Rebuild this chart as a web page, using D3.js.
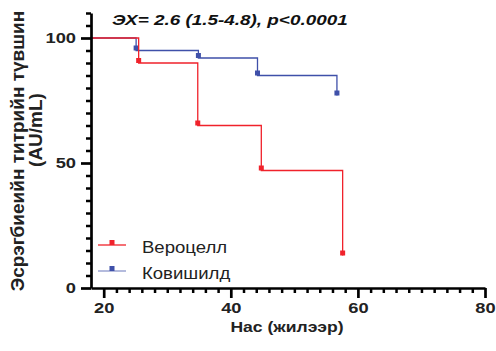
<!DOCTYPE html>
<html>
<head>
<meta charset="utf-8">
<script src="https://cdn.jsdelivr.net/npm/d3@7"></script>
<style>
  body { margin: 0; background: #fff; }
  svg text { font-family: Arial, "Liberation Sans", sans-serif; }
</style>
</head>
<body>
<svg id="chart" width="496" height="351"></svg>
<script>
// data
const seriesNames = ["Вероцелл", "Ковишилд"];
const seriesColors = ["#f0222b", "#3f50a9"];
const veroTimes = [18, 25.5, 34.8, 44.8, 57.6];
const veroLevels = [100, 90, 65, 47, 13];
const coviTimes = [18, 25.1, 34.9, 44.2, 56.7];
const coviLevels = [100, 95, 92, 85, 77];
const xMajorTicks = [20, 40, 60, 80];
const yMajorTicks = [0, 50, 100];
const titleText = "ЭХ= 2.6 (1.5-4.8), p<0.0001";
const xTitle = "Нас (жилээр)";
const yTitle = ["Эсрэгбиеийн титрийн түвшин", "(AU/mL)"];

// layout
const margin = { left: 91, right: 11, top: 13, bottom: 63 };
const W = 496, H = 351;
const width = W - margin.left - margin.right;
const height = H - margin.top - margin.bottom;
const markerSize = 5;
const stretch = 1.22; // text in the reference is a bit wider than plain Arial

const svg = d3.select("#chart");
const g = svg.append("g").attr("transform", `translate(${margin.left}, ${margin.top})`);

const x = d3.scaleLinear().domain([18, 80]).range([0, width]);
const y = d3.scaleLinear().domain([0, 110]).range([height, 0]);

const series = [
  { name: seriesNames[0], color: seriesColors[0], t: veroTimes, v: veroLevels },
  { name: seriesNames[1], color: seriesColors[1], t: coviTimes, v: coviLevels }
];

// step lines (blue first so red sits on top)
[series[1], series[0]].forEach((s) => {
  const pts = s.t.map((t, i) => ({ t: t, v: s.v[i] }));
  const line = d3.line()
    .x((d) => x(d.t))
    .y((d) => y(d.v))
    .curve(d3.curveStepAfter);
  g.append("path")
    .datum(pts)
    .attr("fill", "none")
    .attr("stroke", s.color)
    .attr("stroke-width", 1.3)
    .attr("d", line);

  g.selectAll(null)
    .data(pts.slice(1))
    .enter()
    .append("rect")
    .attr("x", (d) => x(d.t) - markerSize / 2)
    .attr("y", (d) => y(d.v) - markerSize)
    .attr("width", markerSize)
    .attr("height", markerSize)
    .attr("fill", s.color);
});

// x axis
const xMinor = d3.range(20, 81, 2).filter((d) => !xMajorTicks.includes(d));
g.append("g")
  .attr("transform", `translate(0, ${height})`)
  .call(d3.axisBottom(x).tickValues(xMinor).tickSize(5).tickFormat("").tickSizeOuter(0))
  .call((a) => a.select(".domain").remove())
  .selectAll("line").attr("stroke", "#000").attr("stroke-width", 2.5);

const xAxis = g.append("g")
  .attr("transform", `translate(0, ${height})`)
  .call(d3.axisBottom(x).tickValues(xMajorTicks).tickSize(10).tickSizeOuter(0).tickPadding(4));
xAxis.select(".domain").attr("stroke", "#000").attr("stroke-width", 2.7);
xAxis.selectAll(".tick line").attr("stroke", "#000").attr("stroke-width", 2.7);
xAxis.selectAll(".tick text")
  .attr("fill", "#222")
  .attr("transform", `scale(${stretch},1)`)
  .style("font-size", "15px")
  .style("font-weight", "bold");

// y axis
const yMinor = d3.range(0, 111, 5).filter((d) => !yMajorTicks.includes(d));
g.append("g")
  .call(d3.axisLeft(y).tickValues(yMinor).tickSize(5).tickFormat("").tickSizeOuter(0))
  .call((a) => a.select(".domain").remove())
  .selectAll("line").attr("stroke", "#000").attr("stroke-width", 2.5);

const yAxis = g.append("g")
  .call(d3.axisLeft(y).tickValues(yMajorTicks).tickSize(10).tickSizeOuter(0).tickPadding(5));
yAxis.select(".domain").attr("stroke", "#000").attr("stroke-width", 2.7);
yAxis.selectAll(".tick line").attr("stroke", "#000").attr("stroke-width", 2.7);
yAxis.selectAll(".tick text")
  .attr("fill", "#222")
  .attr("x", -15 / stretch)
  .attr("transform", `scale(${stretch},1)`)
  .style("font-size", "15px")
  .style("font-weight", "bold");

// title
svg.append("text")
  .attr("transform", `translate(112, 25) scale(1.26,1)`)
  .style("font-size", "15px")
  .style("font-weight", "bold")
  .style("font-style", "italic")
  .attr("fill", "#111")
  .text(titleText);

// x-axis title
svg.append("text")
  .attr("transform", `translate(287, 332) scale(1.17,1)`)
  .attr("text-anchor", "middle")
  .style("font-size", "15px")
  .style("font-weight", "bold")
  .attr("fill", "#222")
  .text(xTitle);

// y-axis title
const yTitlePos = [[24, 151], [42, 130]];
yTitle.forEach((t, i) => {
  svg.append("text")
    .attr("transform", `translate(${yTitlePos[i][0]}, ${yTitlePos[i][1]}) rotate(-90)`)
    .attr("text-anchor", "middle")
    .style("font-size", "19px")
    .style("font-weight", "bold")
    .attr("fill", "#222")
    .text(t);
});

// legend
series.forEach((s, i) => {
  const ly = 245 + i * 26;
  svg.append("line")
    .attr("x1", 98).attr("x2", 126)
    .attr("y1", ly).attr("y2", ly)
    .attr("stroke", s.color)
    .attr("stroke-width", 1.3)
    .attr("stroke-opacity", i === 1 ? 0.6 : 1);
  svg.append("rect")
    .attr("x", 112 - markerSize / 2)
    .attr("y", ly - markerSize)
    .attr("width", markerSize)
    .attr("height", markerSize)
    .attr("fill", s.color);
  svg.append("text")
    .attr("transform", `translate(142, ${ly + 8}) scale(1.16,1)`)
    .style("font-size", "16px")
    .attr("fill", "#222")
    .text(s.name);
});
</script>
</body>
</html>
